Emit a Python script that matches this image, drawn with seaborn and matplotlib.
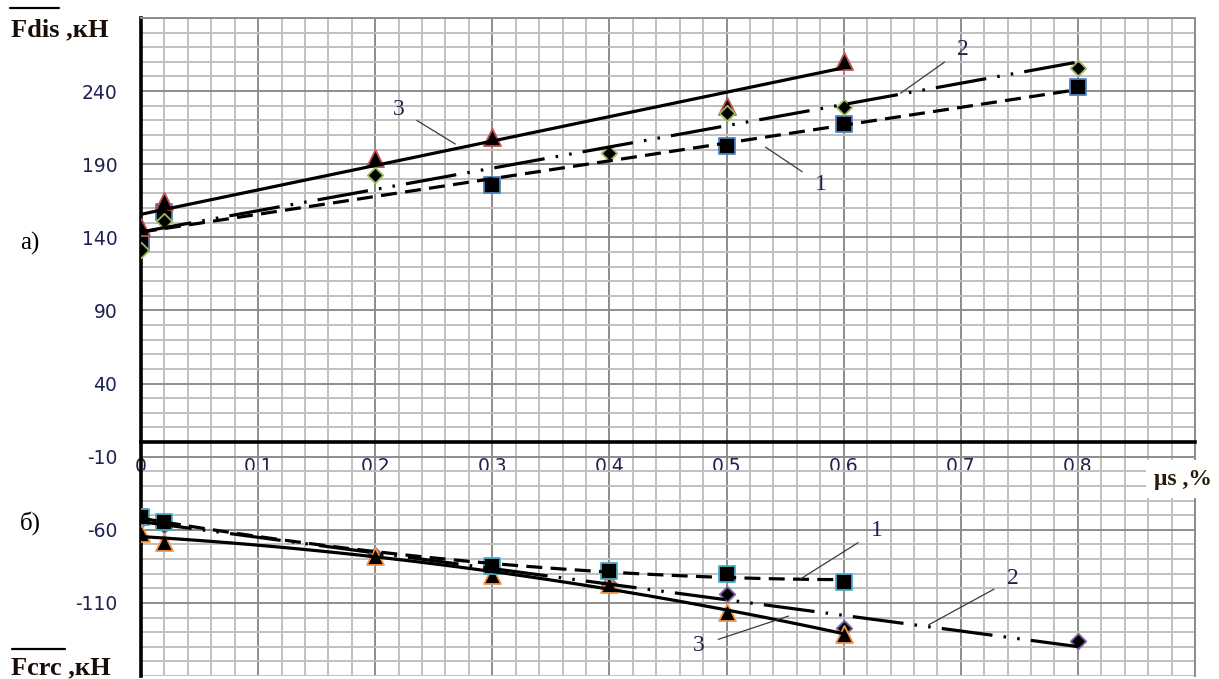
import numpy as np
import pandas as pd
import matplotlib
matplotlib.use("Agg")
import matplotlib.pyplot as plt
from matplotlib.lines import Line2D
from matplotlib.ticker import MultipleLocator
import seaborn as sns

# ---- data -------------------------------------------------------------
# а) Fdis, kN versus μs, %
x_top_1 = [0, 0.02, 0.3, 0.5, 0.6, 0.8]
y_top_1 = [136, 157, 176, 202.5, 217.5, 243]
x_top_2 = [0, 0.02, 0.2, 0.4, 0.5, 0.6, 0.8]
y_top_2 = [131, 151.5, 182.5, 197.5, 225, 229, 255.5]
x_top_3 = [0, 0.02, 0.2, 0.3, 0.5, 0.6]
y_top_3 = [147, 165, 194, 208.5, 230, 260.5]

# б) Fcrc, kN versus μs, %
x_bot_1 = [0, 0.02, 0.3, 0.4, 0.5, 0.6]
y_bot_1 = [-51.5, -55, -85, -88, -90.5, -95.5]
x_bot_2 = [0, 0.02, 0.2, 0.3, 0.4, 0.5, 0.6, 0.8]
y_bot_2 = [-53, -57, -77, -86, -97, -104, -127, -136]
x_bot_3 = [0, 0.02, 0.2, 0.3, 0.4, 0.5, 0.6]
y_bot_3 = [-62, -68.5, -78, -91, -97, -116.5, -131]

x_ticks = [0, 0.1, 0.2, 0.3, 0.4, 0.5, 0.6, 0.7, 0.8]
x_tick_labels = ["0", "0.1", "0.2", "0.3", "0.4", "0.5", "0.6", "0.7", "0.8"]
y_ticks = [-110, -60, -10, 40, 90, 140, 190, 240]
y_tick_labels = ["-110", "-60", "-10", "40", "90", "140", "190", "240"]

# ---- style ------------------------------------------------------------
sns.set_style("white")
plt.rcParams["font.family"] = ["DejaVu Sans"]
SERIF = ["Liberation Serif", "DejaVu Serif"]
TICK_COLOR = "#1c2150"

W, H = 1219, 679
fig = plt.figure(figsize=(W / 100, H / 100), dpi=100)
ax = fig.add_axes([141 / W, 1 - 676 / H, (1195 - 141) / W, (676 - 18) / H])
ax.set_xlim(0, 0.9)
ax.set_ylim(-160, 290)

# grid
ax.set_xticks(x_ticks, x_tick_labels)
ax.set_yticks(y_ticks, y_tick_labels)
ax.xaxis.set_minor_locator(MultipleLocator(0.02))
ax.yaxis.set_minor_locator(MultipleLocator(10))
ax.set_axisbelow(True)
ax.grid(which="major", color="#8c8c8c", lw=1.4)
ax.grid(which="minor", color="#c0c0c0", lw=1.4)
ax.tick_params(which="both", length=0)
ax.tick_params(axis="y", pad=17, labelsize=13.5, labelcolor=TICK_COLOR)
ax.tick_params(axis="x", pad=11, labelsize=13.5, labelcolor=TICK_COLOR)

# spines: vertical axis at x=0, horizontal axis at y=0
ax.spines["left"].set_color("black")
ax.spines["left"].set_linewidth(2.6)
ax.spines["bottom"].set_position(("data", 0))
ax.spines["bottom"].set_color("black")
ax.spines["bottom"].set_linewidth(2.6)
for side in ("top", "right"):
    ax.spines[side].set_color("#8c8c8c")
    ax.spines[side].set_linewidth(1.4)
    ax.spines[side].set_visible(True)

# ---- series -----------------------------------------------------------
DASH = (5, 2.6)
DASH_DOT_DOT = (16, 3.5, 0.8, 3.5, 0.8, 3.5)

series = [
    # x, y, marker, size, edge colour, trend dashes, trend order, marker z
    (x_top_1, y_top_1, "s", 125, "#4f81bd", DASH, 1, 3),
    (x_top_3, y_top_3, "^", 150, "#c0504d", None, 1, 4),
    (x_top_2, y_top_2, "D", 62, "#9bbb59", DASH_DOT_DOT, 1, 5),
    (x_bot_2, y_bot_2, "D", 62, "#8064a2", DASH_DOT_DOT, 1, 3),
    (x_bot_3, y_bot_3, "^", 150, "#f79646", None, 2, 4),
    (x_bot_1, y_bot_1, "s", 125, "#4bacc6", DASH, 2, 5),
]

for xs, ys, mk, size, edge, dashes, order, z in series:
    df = pd.DataFrame({"x": xs, "y": ys})
    sns.scatterplot(data=df, x="x", y="y", marker=mk, s=size, color="black",
                    edgecolor=edge, linewidth=1.3, ax=ax, zorder=z, legend=False)
    line_kws = {"color": "black", "lw": 2.3, "zorder": 6}
    if dashes is not None:
        line_kws["dashes"] = dashes
    sns.regplot(data=df, x="x", y="y", order=order, ci=None, scatter=False,
                truncate=True, line_kws=line_kws, ax=ax)

ax.set_xlabel("")
ax.set_ylabel("")

# ---- curve numbers with leader lines ---------------------------------
callouts = [
    ("3", (0.2197, 227.7), (0.2684, 203.8)),
    ("2", (0.7017, 268.7), (0.6487, 238.6)),
    ("1", (0.5803, 176.4), (0.5333, 201.7)),
    ("1", (0.6282, -60.8), (0.5632, -93.6)),
    ("2", (0.7444, -93.6), (0.6726, -125.0)),
    ("3", (0.4761, -139.4), (0.5530, -119.0)),
]
for label, txt_xy, tip_xy in callouts:
    ax.annotate(label, xy=tip_xy, xytext=txt_xy, ha="center", va="center",
                fontsize=17, family=SERIF, color="#1e2348", zorder=7,
                arrowprops=dict(arrowstyle="-", color="#3a3a3a", lw=0.9,
                                shrinkA=8, shrinkB=0))

# ---- axis titles and panel marks -------------------------------------
fig.text(11 / W, 1 - 30 / H, "Fdis ,кН", ha="left", va="center",
         family=SERIF, fontweight="bold", fontsize=19, color="#1a0d05")
fig.add_artist(Line2D([10 / W, 59 / W], [1 - 8 / H] * 2, color="black", lw=1.6))
fig.text(11 / W, 1 - 674 / H, "Fcrc ,кН", ha="left", va="baseline",
         family=SERIF, fontweight="bold", fontsize=19, color="#1a0d05")
fig.add_artist(Line2D([12 / W, 65 / W], [1 - 649 / H] * 2, color="black", lw=1.6))

fig.text(20 / W, 1 - 243 / H, "а)", ha="left", va="center",
         family=SERIF, fontsize=18, color="black")
fig.text(20 / W, 1 - 523 / H, "б)", ha="left", va="center",
         family=SERIF, fontsize=18, color="black")

fig.text(1183 / W, 1 - 479 / H, "μs ,%", ha="center", va="center",
         family=SERIF, fontweight="bold", fontsize=17, color="#2a1a0a",
         bbox=dict(facecolor="white", edgecolor="none", pad=6))

fig.savefig("out.png", dpi=100)
